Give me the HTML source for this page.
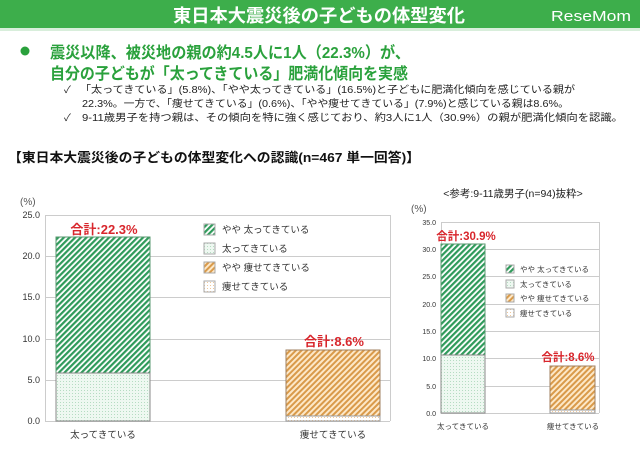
<!DOCTYPE html>
<html><head><meta charset="utf-8"><style>
body{margin:0;width:640px;height:456px;background:#fff;overflow:hidden;font-family:"Liberation Sans","Noto Sans CJK JP",sans-serif}
</style></head><body>
<svg width="640" height="456" xmlns="http://www.w3.org/2000/svg" font-family="Liberation Sans, Noto Sans CJK JP, sans-serif">
<defs>
<pattern id="gd" width="4" height="4" patternUnits="userSpaceOnUse" patternTransform="rotate(45)"><rect width="4" height="4" fill="#fff"/><rect width="2.2" height="4" fill="#2e9a5a"/></pattern>
<pattern id="gl" width="3" height="3" patternUnits="userSpaceOnUse"><rect width="3" height="3" fill="#eef8f1"/><rect width="1" height="1" fill="#b5dcc2"/></pattern>
<pattern id="od" width="4" height="4" patternUnits="userSpaceOnUse" patternTransform="rotate(45)"><rect width="4" height="4" fill="#fde8c8"/><rect width="2" height="4" fill="#d99a4a"/></pattern>
<pattern id="ol" width="3" height="3" patternUnits="userSpaceOnUse"><rect width="3" height="3" fill="#fff"/><rect width="1" height="1" fill="#f0c89a"/></pattern>
</defs>
<rect x="0" y="0" width="640" height="28" fill="#3dae4b"/>
<rect x="0" y="28" width="640" height="3" fill="#d8eedb"/>
<text x="173" y="22" fill="#fff" font-size="18" font-weight="bold" textLength="292" lengthAdjust="spacingAndGlyphs">東日本大震災後の子どもの体型変化</text>
<text x="551" y="21" fill="#fff" font-size="15" textLength="80" lengthAdjust="spacingAndGlyphs">ReseMom</text>
<circle cx="25" cy="51" r="4.5" fill="#2aa13c"/>
<text x="50" y="58" fill="#2aa13c" font-size="16" font-weight="bold" textLength="360" lengthAdjust="spacingAndGlyphs">震災以降、被災地の親の約4.5人に1人（22.3%）が、</text>
<text x="50" y="79" fill="#2aa13c" font-size="16" font-weight="bold" textLength="358" lengthAdjust="spacingAndGlyphs">自分の子どもが「太ってきている」肥満化傾向を実感</text>
<g font-size="10" fill="#222">
<text x="64" y="93">✓</text><text x="80" y="93" textLength="495" lengthAdjust="spacingAndGlyphs">「太ってきている」(5.8%)、「やや太ってきている」(16.5%)と子どもに肥満化傾向を感じている親が</text>
<text x="82" y="107" textLength="487" lengthAdjust="spacingAndGlyphs">22.3%。一方で、「痩せてきている」(0.6%)、「やや痩せてきている」(7.9%)と感じている親は8.6%。</text>
<text x="64" y="121">✓</text><text x="82" y="121" textLength="541" lengthAdjust="spacingAndGlyphs">9-11歳男子を持つ親は、その傾向を特に強く感じており、約3人に1人（30.9%）の親が肥満化傾向を認識。</text>
</g>
<text x="8" y="162" font-size="13" font-weight="bold" fill="#111" textLength="412" lengthAdjust="spacingAndGlyphs">【東日本大震災後の子どもの体型変化への認識(n=467 単一回答)】</text>

<!-- left chart -->
<g stroke="#ccc" stroke-width="1">
<line x1="45" y1="215.5" x2="390" y2="215.5"/><line x1="45" y1="256.5" x2="390" y2="256.5"/><line x1="45" y1="297.5" x2="390" y2="297.5"/><line x1="45" y1="339.5" x2="390" y2="339.5"/><line x1="45" y1="380.5" x2="390" y2="380.5"/><line x1="45" y1="421.5" x2="390" y2="421.5"/>
<line x1="45.5" y1="215" x2="45.5" y2="421"/><line x1="390.5" y1="215" x2="390.5" y2="421"/>
</g>
<g font-size="9" fill="#333" text-anchor="end">
<text x="40" y="218">25.0</text><text x="40" y="259">20.0</text><text x="40" y="300">15.0</text><text x="40" y="342">10.0</text><text x="40" y="383">5.0</text><text x="40" y="424">0.0</text>
</g>
<text x="20" y="205" font-size="10" fill="#555">(%)</text>
<rect x="56" y="237" width="94" height="136" fill="url(#gd)" stroke="#5a9a70" stroke-width="1"/>
<rect x="56" y="373" width="94" height="48" fill="url(#gl)" stroke="#888" stroke-width="1"/>
<rect x="286" y="350" width="94" height="66" fill="url(#od)" stroke="#a08060" stroke-width="1"/>
<rect x="286" y="416" width="94" height="5" fill="url(#ol)" stroke="#999" stroke-width="1"/>
<text x="104" y="234" font-size="13" font-weight="bold" fill="#d8262c" text-anchor="middle">合計:22.3%</text>
<text x="334" y="346" font-size="13" font-weight="bold" fill="#d8262c" text-anchor="middle">合計:8.6%</text>
<rect x="204" y="224" width="11" height="11" fill="url(#gd)" stroke="#aaa"/>
<rect x="204" y="243" width="11" height="11" fill="url(#gl)" stroke="#aaa"/>
<rect x="204" y="262" width="11" height="11" fill="url(#od)" stroke="#aaa"/>
<rect x="204" y="281" width="11" height="11" fill="url(#ol)" stroke="#aaa"/>
<g font-size="9.5" fill="#333">
<text x="222" y="233">やや 太ってきている</text><text x="222" y="252">太ってきている</text><text x="222" y="271">やや 痩せてきている</text><text x="222" y="290">痩せてきている</text>
<text x="103" y="438" text-anchor="middle">太ってきている</text><text x="333" y="438" text-anchor="middle">痩せてきている</text>
</g>

<!-- right chart -->
<text x="513" y="197" font-size="10.5" fill="#222" text-anchor="middle">&lt;参考:9-11歳男子(n=94)抜粋&gt;</text>
<text x="411" y="212" font-size="10" fill="#555">(%)</text>
<g stroke="#ccc" stroke-width="1">
<line x1="441" y1="222.5" x2="599" y2="222.5"/><line x1="441" y1="249.5" x2="599" y2="249.5"/><line x1="441" y1="276.5" x2="599" y2="276.5"/><line x1="441" y1="304.5" x2="599" y2="304.5"/><line x1="441" y1="331.5" x2="599" y2="331.5"/><line x1="441" y1="358.5" x2="599" y2="358.5"/><line x1="441" y1="386.5" x2="599" y2="386.5"/><line x1="441" y1="413.5" x2="599" y2="413.5"/>
<line x1="441.5" y1="222" x2="441.5" y2="413"/><line x1="599.5" y1="222" x2="599.5" y2="413"/>
</g>
<g font-size="7" fill="#333" text-anchor="end">
<text x="436" y="225">35.0</text><text x="436" y="252">30.0</text><text x="436" y="279">25.0</text><text x="436" y="307">20.0</text><text x="436" y="334">15.0</text><text x="436" y="361">10.0</text><text x="436" y="389">5.0</text><text x="436" y="416">0.0</text>
</g>
<rect x="441" y="244" width="44" height="111" fill="url(#gd)" stroke="#5a9a70"/>
<rect x="441" y="355" width="44" height="58" fill="url(#gl)" stroke="#888"/>
<rect x="550" y="366" width="45" height="44" fill="url(#od)" stroke="#a08060"/>
<rect x="550" y="410" width="45" height="3" fill="url(#ol)" stroke="#999"/>
<text x="466" y="240" font-size="11.5" font-weight="bold" fill="#d8262c" text-anchor="middle">合計:30.9%</text>
<text x="568" y="361" font-size="11.5" font-weight="bold" fill="#d8262c" text-anchor="middle">合計:8.6%</text>
<rect x="506" y="265" width="8" height="8" fill="url(#gd)" stroke="#aaa"/>
<rect x="506" y="280" width="8" height="8" fill="url(#gl)" stroke="#aaa"/>
<rect x="506" y="294" width="8" height="8" fill="url(#od)" stroke="#aaa"/>
<rect x="506" y="309" width="8" height="8" fill="url(#ol)" stroke="#aaa"/>
<g font-size="7.5" fill="#333">
<text x="520" y="272">やや 太ってきている</text><text x="520" y="287">太ってきている</text><text x="520" y="301">やや 痩せてきている</text><text x="520" y="316">痩せてきている</text>
<text x="463" y="429" text-anchor="middle">太ってきている</text><text x="573" y="429" text-anchor="middle">痩せてきている</text>
</g>
</svg>
</body></html>
